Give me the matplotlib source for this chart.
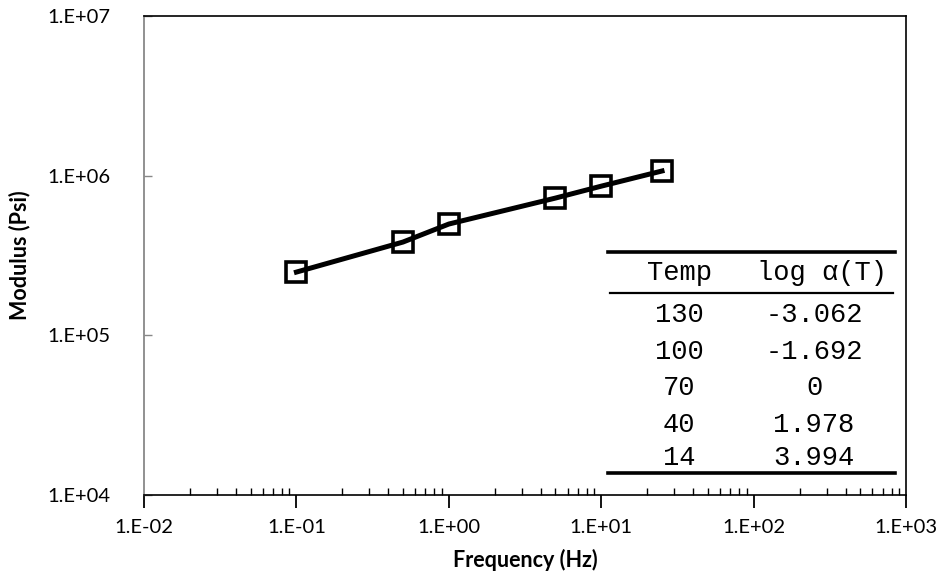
import matplotlib.pyplot as plt
from matplotlib.ticker import LogLocator, FixedLocator, NullFormatter
from matplotlib.lines import Line2D

# master curve data
freq = [0.1, 0.5, 1.0, 5.0, 10.0, 25.0]
modulus = [2.49e5, 3.84e5, 4.98e5, 7.24e5, 8.6e5, 1.07e6]

# shift factor table
temps = ['130', '100', '70', '40', '14']
shifts = ['-3.062', '-1.692', '0', '1.978', '3.994']
table_head = ['Temp', 'log α(T)']

xticks = [1e-2, 1e-1, 1e0, 1e1, 1e2, 1e3]
xtick_labels = ['1.E-02', '1.E-01', '1.E+00', '1.E+01', '1.E+02', '1.E+03']
yticks = [1e4, 1e5, 1e6, 1e7]
ytick_labels = ['1.E+04', '1.E+05', '1.E+06', '1.E+07']

plt.rcParams['font.family'] = ['Lato', 'DejaVu Sans']

fig = plt.figure(figsize=(9.47, 5.76), dpi=100)
ax = fig.add_axes([0.152, 0.1406, 0.805, 0.8316])

ax.plot(freq, modulus, '-', color='black', lw=3.6, zorder=2)
ax.plot(freq, modulus, 's', ms=14, mfc='none', mec='black', mew=2.6, zorder=3)

ax.set_xscale('log')
ax.set_yscale('log')
ax.set_xlim(1e-2, 1e3)
ax.set_ylim(1e4, 1e7)

ax.xaxis.set_major_locator(FixedLocator(xticks))
ax.set_xticklabels(xtick_labels)
ax.xaxis.set_minor_locator(LogLocator(base=10, subs=range(2, 10)))
ax.xaxis.set_minor_formatter(NullFormatter())
ax.yaxis.set_major_locator(FixedLocator(yticks))
ax.set_yticklabels(ytick_labels)
ax.yaxis.set_minor_locator(FixedLocator([]))

ax.tick_params(axis='x', which='major', direction='out', length=9, width=1.3, labelsize=14.5, pad=8)
ax.tick_params(axis='x', which='minor', direction='in', length=5, width=1.0)
ax.tick_params(axis='y', which='major', direction='in', length=6, width=1.0, labelsize=14.5, pad=24,
               color='#888888')

for s in ['top', 'right', 'bottom']:
    ax.spines[s].set_color('black')
    ax.spines[s].set_linewidth(1.2)
ax.spines['left'].set_color('#888888')
ax.spines['left'].set_linewidth(1.3)

ax.set_xlabel('Frequency (Hz)', fontsize=15.5, fontweight='bold', va='center')
ax.set_ylabel('Modulus (Psi)', fontsize=15.5, fontweight='bold', va='center')
ax.xaxis.set_label_coords(0.5, -0.136)
ax.yaxis.set_label_coords(-0.163, 0.5)

# inset table drawn in figure pixel coordinates
W, H = 947, 576
def fy(y):
    return 1 - y / H

fig.add_artist(Line2D([608 / W, 895 / W], [fy(252), fy(252)], color='black', lw=2.6))
fig.add_artist(Line2D([610 / W, 893 / W], [fy(293), fy(293)], color='black', lw=1.6))
fig.add_artist(Line2D([608 / W, 895 / W], [fy(473), fy(473)], color='black', lw=2.6))

tfont = dict(family=['Liberation Mono', 'DejaVu Sans Mono'], fontsize=19.5, ha='center', va='center')
fig.text(679 / W, fy(273), table_head[0], **tfont)
fig.text(822 / W, fy(273), table_head[1], **tfont)
row_y = [315, 352, 388, 425, 458]
for t, s, y in zip(temps, shifts, row_y):
    fig.text(679 / W, fy(y), t, **tfont)
    fig.text(814 / W, fy(y), s, **tfont)

fig.savefig('out.png', dpi=100)
